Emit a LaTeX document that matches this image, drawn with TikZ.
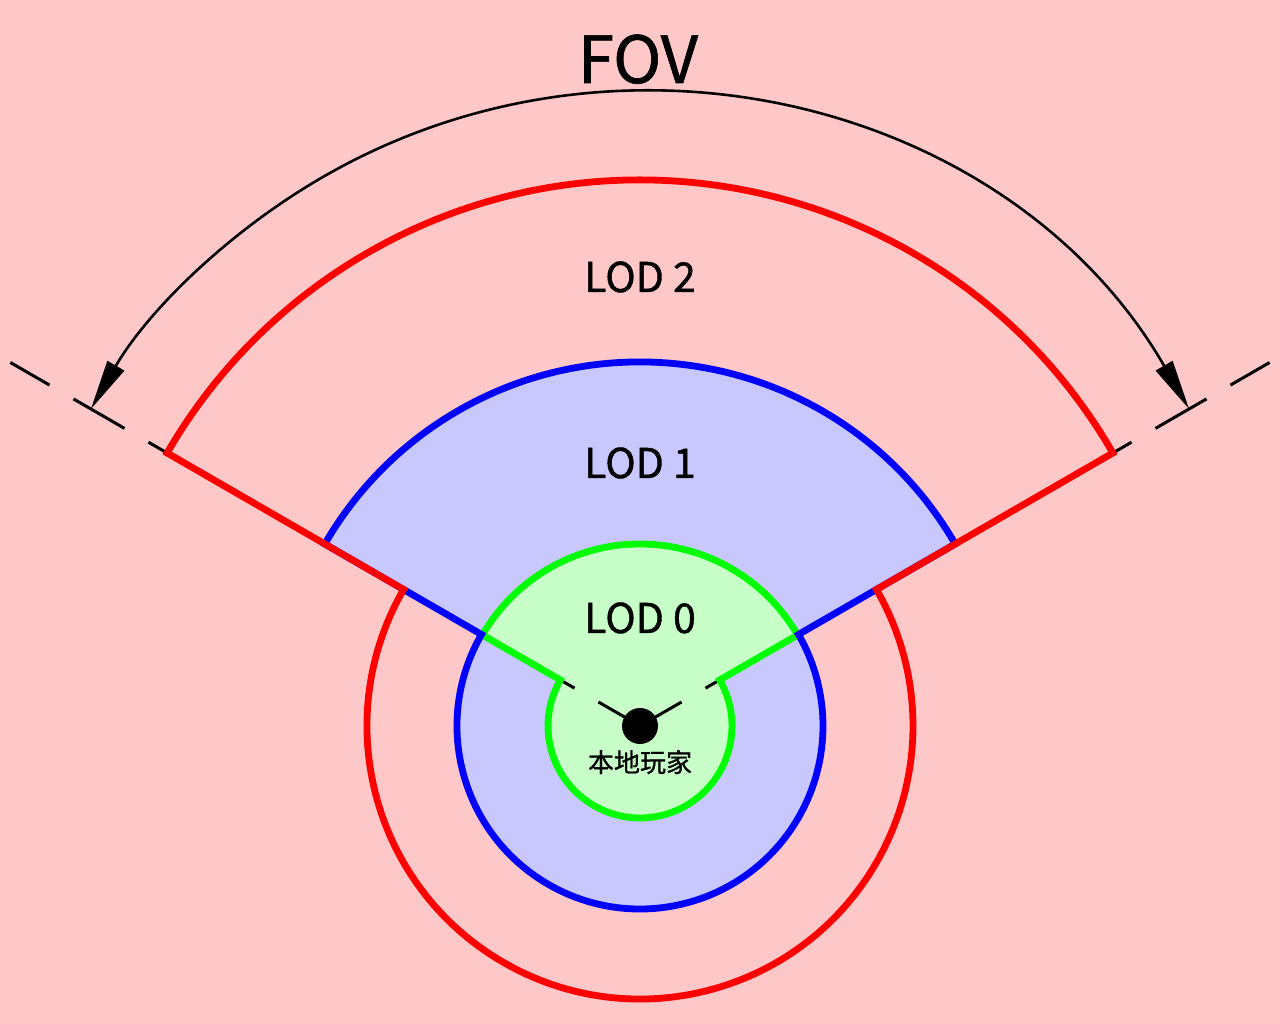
\documentclass[tikz,border=0pt]{standalone}
\usepackage{fontspec}
\setmainfont[FakeBold=1.0]{Noto Sans CJK SC}
\usetikzlibrary{arrows.meta}
\definecolor{bgpink}{RGB}{255,200,200}
\definecolor{lodblue}{RGB}{200,200,255}
\definecolor{lodgreen}{RGB}{200,255,200}
\tikzset{
  outline/.style={line width=6.8pt, line join=miter},
  fovline/.style={line width=3pt, dash pattern=on 59pt off 27.6pt, dash phase=11pt},
  fovarc/.style={line width=2.6pt, {Triangle[length=50pt,width=19pt]}-{Triangle[length=50pt,width=19pt]}},
  lodlabel/.style={font=\fontsize{41}{41}\selectfont, anchor=base},
}
\begin{document}
\begin{tikzpicture}[x=1pt,y=1pt]
\useasboundingbox (0,0) rectangle (1280,1024);
\clip (0,0) rectangle (1280,1024);
\fill[bgpink] (0,0) rectangle (1280,1024);
\coordinate (C) at (640,298);
% fills
\fill[lodblue] (C) -- ([shift={(30:364)}]C) arc[start angle=30,end angle=150,radius=364] -- cycle;
\fill[lodblue] (C) circle[radius=183];
\fill[lodgreen] (C) -- ([shift={(30:182)}]C) arc[start angle=30,end angle=150,radius=182] -- cycle;
\fill[lodgreen] (C) circle[radius=92];
% FOV boundary dashed lines
\coordinate (L) at ([shift={(150:727)}]C);
\coordinate (R) at ([shift={(30:727)}]C);
\draw[fovline] (C) -- (L);
\draw[fovline] (C) -- (R);
% outlines
\draw[outline, green] ([shift={(30:182)}]C) arc[start angle=30,end angle=150,radius=182]
  -- ([shift={(150:92)}]C) arc[start angle=150,end angle=390,radius=92] -- cycle;
\draw[outline, blue] ([shift={(30:364)}]C) arc[start angle=30,end angle=150,radius=364]
  -- ([shift={(150:183)}]C) arc[start angle=150,end angle=390,radius=183] -- cycle;
\draw[outline, red] ([shift={(30:546)}]C) arc[start angle=30,end angle=150,radius=546]
  -- ([shift={(150:273)}]C) arc[start angle=150,end angle=390,radius=273] -- cycle;
% FOV arc
\draw[fovarc] ([shift={(30:634)}]C) arc[start angle=30,end angle=150,radius=634];
% player
\fill[black] (C) circle[radius=18];
% labels
\node[font=\fontsize{65}{65}\selectfont, anchor=base] (fov) at (638,941) {FOV};
\node[lodlabel] (lod2) at (640,732) {LOD 2};
\node[lodlabel] (lod1) at (640,546) {LOD 1};
\node[lodlabel] (lod0) at (640,391) {LOD 0};
\node[font=\fontsize{26}{26}\selectfont, anchor=base] (player) at (640,252) {本地玩家};
\end{tikzpicture}
\end{document}
